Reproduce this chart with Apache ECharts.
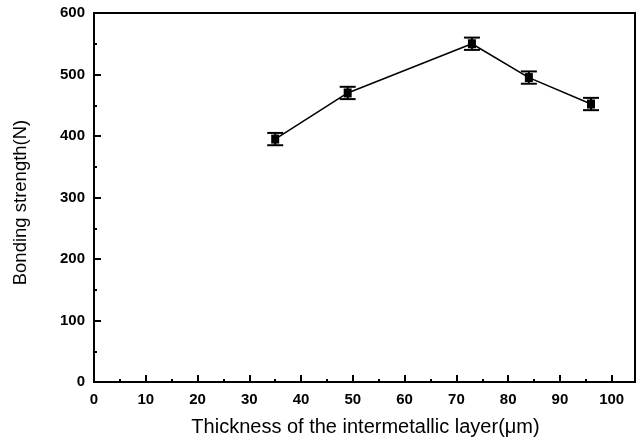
<!DOCTYPE html>
<html>
<head>
<meta charset="utf-8">
<script src="https://cdn.jsdelivr.net/npm/echarts@6/dist/echarts.min.js"></script>
<style>
    html, body { margin: 0; padding: 0; background: #fff; }
    #chart { width: 638px; height: 438px; }
</style>
</head>
<body>
<div id="chart"></div>
<script type="text/javascript">
    // 数据
    var thickness = [35, 49, 73, 84, 96];
    var strength = [395, 470, 550, 495, 452];
    var errs = [10, 10, 10, 10, 10];

    var points = [];
    var bars = [];
    for (var i = 0; i < thickness.length; i++) {
        points.push([thickness[i], strength[i]]);
        bars.push([thickness[i], strength[i] - errs[i], strength[i] + errs[i]]);
    }

    var myChart = echarts.init(document.getElementById("chart"));

    var option = {
        animation: false,
        grid: {
            left: 94, right: 3, top: 13, bottom: 56,
            outerBoundsMode: 'none',
            show: true, borderColor: '#000', borderWidth: 2
        },
        xAxis: {
            type: 'value',
            min: 0, max: 104.5, interval: 10,
            name: 'Thickness of the intermetallic layer(\u03bcm)',
            nameLocation: 'middle',
            nameGap: 35,
            nameTextStyle: { fontFamily: 'Liberation Sans', fontSize: 20, color: '#000', padding: [0, 0, 0, 2] },
            axisLine: { lineStyle: { color: '#000', width: 2 } },
            axisTick: { inside: true, length: 7, lineStyle: { color: '#000', width: 2 } },
            minorTick: { show: true, splitNumber: 2, length: 3, lineStyle: { color: '#000', width: 2 } },
            axisLabel: {
                fontFamily: 'Liberation Sans', fontWeight: 'bold', fontSize: 15, color: '#000', margin: 10,
                formatter: function (v) { return v <= 100 ? v : ''; }
            },
            splitLine: { show: false }
        },
        yAxis: {
            type: 'value',
            min: 0, max: 600, interval: 100,
            name: 'Bonding strength(N)',
            nameLocation: 'middle',
            nameGap: 64,
            nameTextStyle: { fontFamily: 'Liberation Sans', fontSize: 18.5, color: '#000', padding: [0, 10, 0, 0] },
            axisLine: { show: true, lineStyle: { color: '#000', width: 2 } },
            axisTick: { show: true, inside: true, length: 7, lineStyle: { color: '#000', width: 2 } },
            minorTick: { show: true, splitNumber: 2, length: 3, lineStyle: { color: '#000', width: 2 } },
            axisLabel: { fontFamily: 'Liberation Sans', fontWeight: 'bold', fontSize: 15, color: '#000', margin: 9 },
            splitLine: { show: false }
        },
        series: [
            {
                type: 'line',
                data: points,
                symbol: 'rect',
                symbolSize: [8, 9],
                itemStyle: { color: '#000' },
                lineStyle: { color: '#000', width: 1.5 },
                z: 3
            },
            {
                type: 'custom',
                data: bars,
                z: 4,
                renderItem: function (params, api) {
                    var x = api.value(0);
                    var lo = api.coord([x, api.value(1)]);
                    var hi = api.coord([x, api.value(2)]);
                    var hw = 8;
                    var st = { stroke: '#000', lineWidth: 2 };
                    return {
                        type: 'group',
                        children: [
                            { type: 'line', shape: { x1: lo[0], y1: lo[1], x2: hi[0], y2: hi[1] }, style: st },
                            { type: 'line', shape: { x1: lo[0] - hw, y1: lo[1], x2: lo[0] + hw, y2: lo[1] }, style: st },
                            { type: 'line', shape: { x1: hi[0] - hw, y1: hi[1], x2: hi[0] + hw, y2: hi[1] }, style: st }
                        ]
                    };
                }
            }
        ]
    };

    myChart.setOption(option, true);
</script>
</body>
</html>
